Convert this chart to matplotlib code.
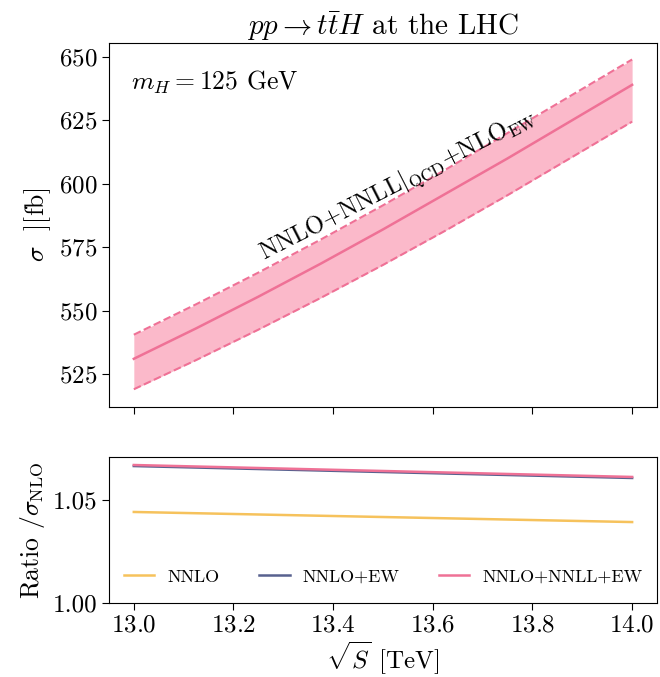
import matplotlib
matplotlib.use("Agg")
import matplotlib.pyplot as plt

plt.rcParams["font.family"] = "serif"
plt.rcParams["font.serif"] = ["cmr10", "DejaVu Serif"]
plt.rcParams["mathtext.fontset"] = "cm"
plt.rcParams["axes.formatter.use_mathtext"] = True

# data
sqrt_s = [13.0, 13.125, 13.25, 13.375, 13.5, 13.625, 13.75, 13.875, 14.0]
sigma_central = [531.0, 543.0, 555.5, 568.5, 582.0, 596.0, 610.0, 624.5, 639.0]
sigma_upper = [540.5, 552.5, 565.0, 578.0, 591.5, 605.5, 620.0, 634.5, 649.0]
sigma_lower = [519.0, 530.5, 542.5, 555.0, 568.0, 581.5, 595.5, 610.0, 624.5]

ratio_sqrt_s = [13.0, 14.0]
ratio_nnlo = [1.0442, 1.0393]
ratio_nnlo_ew = [1.0665, 1.0607]
ratio_nnlo_nnll_ew = [1.0670, 1.0612]

pink = "#ef7196"
pink_fill = "#fbb9ca"
yellow = "#f6c25c"
blue = "#58618f"

fig = plt.figure(figsize=(6.6, 6.77), dpi=100)
ax1 = fig.add_axes([0.165, 0.3988, 0.8305, 0.5377])
ax2 = fig.add_axes([0.165, 0.1093, 0.8305, 0.2157], sharex=ax1)

ax1.fill_between(sqrt_s, sigma_lower, sigma_upper, color=pink_fill, lw=0)
ax1.plot(sqrt_s, sigma_central, color=pink, lw=1.8)
ax1.plot(sqrt_s, sigma_upper, color=pink, lw=1.5, ls="--")
ax1.plot(sqrt_s, sigma_lower, color=pink, lw=1.5, ls="--")
ax1.set_ylim(512, 655.5)
ax1.set_yticks([525, 550, 575, 600, 625, 650])
ax1.set_ylabel(r"$\sigma$  ][fb]", fontsize=18.5)
ax1.set_title(r"$pp\to t\bar{t}H$ at the LHC", fontsize=21)
ax1.text(0.04, 0.93, r"$m_H = 125$ GeV", transform=ax1.transAxes,
         fontsize=18.5, va="top")
ax1.text(13.53, 599.5, r"NNLO+NNLL$|_{\rm QCD}$+NLO$_{\rm EW}$",
         rotation=27, ha="center", va="center", fontsize=17.5,
         rotation_mode="anchor")
ax1.tick_params(labelbottom=False, labelsize=18, direction="out", length=5)

ax2.plot(ratio_sqrt_s, ratio_nnlo, color=yellow, lw=1.8, label="NNLO")
ax2.plot(ratio_sqrt_s, ratio_nnlo_ew, color=blue, lw=1.8, label="NNLO+EW")
ax2.plot(ratio_sqrt_s, ratio_nnlo_nnll_ew, color=pink, lw=1.8, label="NNLO+NNLL+EW")
ax2.set_ylim(1.0, 1.0709)
ax2.set_yticks([1.00, 1.05])
ax2.set_yticklabels(["1.00", "1.05"])
ax2.set_xticks([13.0, 13.2, 13.4, 13.6, 13.8, 14.0])
ax2.set_xlim(12.95, 14.05)
ax2.set_ylabel(r"Ratio $/\sigma_{\rm NLO}$", fontsize=18.5)
ax2.set_xlabel(r"$\sqrt{S}$ [TeV]", fontsize=18, labelpad=2)
ax2.tick_params(labelsize=18, length=5)
ax2.legend(loc="center", bbox_to_anchor=(0.5, 0.18), ncol=3, frameon=False,
           fontsize=13, columnspacing=2.2, handlelength=1.7,
           handletextpad=0.7)

fig.savefig("out.png", dpi=100)
